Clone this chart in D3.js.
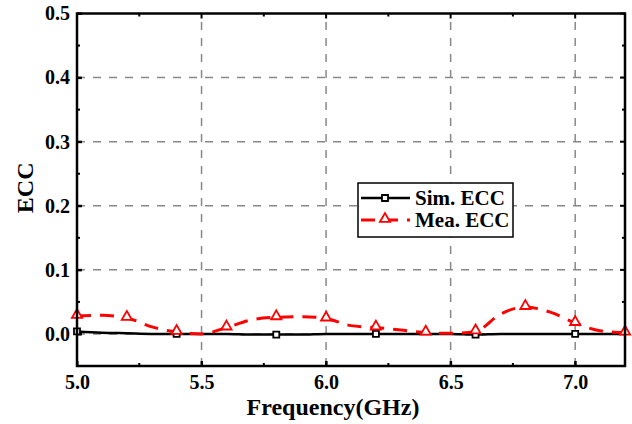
<!DOCTYPE html>
<html>
<head>
<meta charset="utf-8">
<script src="https://cdn.jsdelivr.net/npm/d3@7"></script>
<style>
  body { margin: 0; background: #fff; }
  svg { font-family: "Liberation Serif", "Times New Roman", serif; font-weight: bold; }
</style>
</head>
<body>
<svg id="chart" width="632" height="424"></svg>
<script>
// frequency samples (GHz)
const freq = [5.0, 5.1, 5.2, 5.3, 5.4, 5.5, 5.6, 5.7, 5.8, 5.9, 6.0, 6.1,
              6.2, 6.3, 6.4, 6.5, 6.6, 6.7, 6.8, 6.9, 7.0, 7.1, 7.2];
const simEcc = [0.004, 0.002, 0.001, 0.0, 0.0, 0.0, 0.0, -0.001, -0.001, -0.001, 0.0, 0.0,
                0.0, 0.0, 0.0, 0.0, -0.001, 0.0, 0.0, 0.0, 0.0, 0.0, 0.0];
const meaEcc = [0.028, 0.029, 0.025, 0.011, 0.003, 0.0, 0.010, 0.022, 0.026, 0.027, 0.024, 0.013,
                0.010, 0.006, 0.002, 0.001, 0.004, 0.031, 0.042, 0.034, 0.017, 0.005, 0.002];
const xTicks = [5.0, 5.5, 6.0, 6.5, 7.0];
const xMinor = [5.25, 5.75, 6.25, 6.75];
const yTicks = [0.0, 0.1, 0.2, 0.3, 0.4, 0.5];
const yMinor = [-0.05, 0.05, 0.15, 0.25, 0.35, 0.45];
const seriesNames = ["Sim. ECC", "Mea. ECC"];

const svg = d3.select("#chart");
const margin = {left: 77, right: 7, top: 13.5, bottom: 58};
const width = 632, height = 424;

const x = d3.scaleLinear().domain([5.0, 7.2]).range([margin.left, width - margin.right]);
const y = d3.scaleLinear().domain([-0.05, 0.5]).range([height - margin.bottom, margin.top]);
const [x0, x1] = x.range();
const [yb, yt] = y.range();

// grid
svg.append("g").selectAll("line")
    .data(xTicks.slice(1))
    .enter().append("line")
    .attr("x1", d => x(d)).attr("x2", d => x(d))
    .attr("y1", yb).attr("y2", yt)
    .attr("stroke", "#888").attr("stroke-width", 1.5).attr("stroke-dasharray", "8,8");
svg.append("g").selectAll("line")
    .data(yTicks.slice(0, -1))
    .enter().append("line")
    .attr("y1", d => y(d)).attr("y2", d => y(d))
    .attr("x1", x0).attr("x2", x1)
    .attr("stroke", "#888").attr("stroke-width", 1.5).attr("stroke-dasharray", "8,8");

// axes (ticks pointing inward)
const xAxis = d3.axisBottom(x).tickValues(xTicks).tickFormat(d3.format(".1f")).tickSizeInner(-5).tickSizeOuter(0).tickPadding(9);
const yAxis = d3.axisLeft(y).tickValues(yTicks).tickFormat(d3.format(".1f")).tickSizeInner(-5).tickSizeOuter(0).tickPadding(7);

const gx = svg.append("g").attr("transform", `translate(0,${yb})`).call(xAxis);
const gy = svg.append("g").attr("transform", `translate(${x0},0)`).call(yAxis);
[gx, gy].forEach(g => {
    g.select(".domain").remove();
    g.selectAll(".tick line").attr("stroke", "#000").attr("stroke-width", 2);
    g.selectAll(".tick text").attr("fill", "#000").style("font-size", "20px")
        .style("font-family", "'Liberation Serif', serif").style("font-weight", "bold");
});

// mirrored ticks on top/right + minor ticks
function xTickMarks(vals, len) {
    [[yb, -1], [yt, 1]].forEach(([yy, dir]) => {
        svg.append("g").selectAll("line")
            .data(vals).enter().append("line")
            .attr("x1", d => x(d)).attr("x2", d => x(d))
            .attr("y1", yy).attr("y2", yy + dir * len)
            .attr("stroke", "#000").attr("stroke-width", 2);
    });
}
function yTickMarks(vals, len) {
    [[x0, 1], [x1, -1]].forEach(([xx, dir]) => {
        svg.append("g").selectAll("line")
            .data(vals).enter().append("line")
            .attr("y1", d => y(d)).attr("y2", d => y(d))
            .attr("x1", xx).attr("x2", xx + dir * len)
            .attr("stroke", "#000").attr("stroke-width", 2);
    });
}
xTickMarks(xTicks, 5);
xTickMarks(xMinor, 3);
yTickMarks(yTicks, 5);
yTickMarks(yMinor, 3);

// series
const simData = freq.map((f, i) => ({f, v: simEcc[i]}));
const meaData = freq.map((f, i) => ({f, v: meaEcc[i]}));
const line = d3.line().x(d => x(d.f)).y(d => y(d.v)).curve(d3.curveMonotoneX);

svg.append("path").datum(simData)
    .attr("d", line).attr("fill", "none").attr("stroke", "#000").attr("stroke-width", 2.5);
svg.append("path").datum(meaData)
    .attr("d", line).attr("fill", "none").attr("stroke", "#ff0000").attr("stroke-width", 3)
    .attr("stroke-dasharray", "14,9");

const tri = d3.symbol().type(d3.symbolTriangle).size(45);
const sq = d3.symbol().type(d3.symbolSquare).size(36);

svg.append("g").selectAll("path")
    .data(simData.filter((d, i) => i % 4 === 0))
    .enter().append("path")
    .attr("d", sq).attr("transform", d => `translate(${x(d.f)},${y(d.v)})`)
    .attr("fill", "#fff").attr("stroke", "#000").attr("stroke-width", 1.8);
svg.append("g").selectAll("path")
    .data(meaData.filter((d, i) => i % 2 === 0))
    .enter().append("path")
    .attr("d", tri).attr("transform", d => `translate(${x(d.f)},${y(d.v) - 1})`)
    .attr("fill", "#fff").attr("stroke", "#ff0000").attr("stroke-width", 1.8);

// frame
svg.append("rect")
    .attr("x", x0).attr("y", yt)
    .attr("width", x1 - x0).attr("height", yb - yt)
    .attr("fill", "none").attr("stroke", "#000").attr("stroke-width", 2.5);

// axis titles
svg.append("text")
    .attr("x", 333).attr("y", 415)
    .attr("text-anchor", "middle").style("font-size", "24px").text("Frequency(GHz)");
svg.append("text")
    .attr("transform", `translate(33,${y(0.228)}) rotate(-90)`)
    .attr("text-anchor", "middle").style("font-size", "24px").text("ECC");

// legend
const legend = svg.append("g").attr("transform", "translate(358,183)");
legend.append("rect").attr("width", 155).attr("height", 54)
    .attr("fill", "#fff").attr("stroke", "#000").attr("stroke-width", 1.5);
const styles = [
    {color: "#000", dash: null, sym: sq},
    {color: "#ff0000", dash: "14,9", sym: tri}
];
seriesNames.forEach((name, i) => {
    const gy0 = 15 + i * 22;
    legend.append("line").attr("x1", 3).attr("x2", 52).attr("y1", gy0).attr("y2", gy0)
        .attr("stroke", styles[i].color).attr("stroke-width", i ? 3 : 2.5)
        .attr("stroke-dasharray", styles[i].dash);
    legend.append("path").attr("d", styles[i].sym)
        .attr("transform", `translate(27,${gy0 - (i ? 1 : 0)})`)
        .attr("fill", "#fff").attr("stroke", styles[i].color).attr("stroke-width", 1.8);
    legend.append("text").attr("x", 57).attr("y", gy0 + 7)
        .style("font-size", "21px").text(name);
});
</script>
</body>
</html>
